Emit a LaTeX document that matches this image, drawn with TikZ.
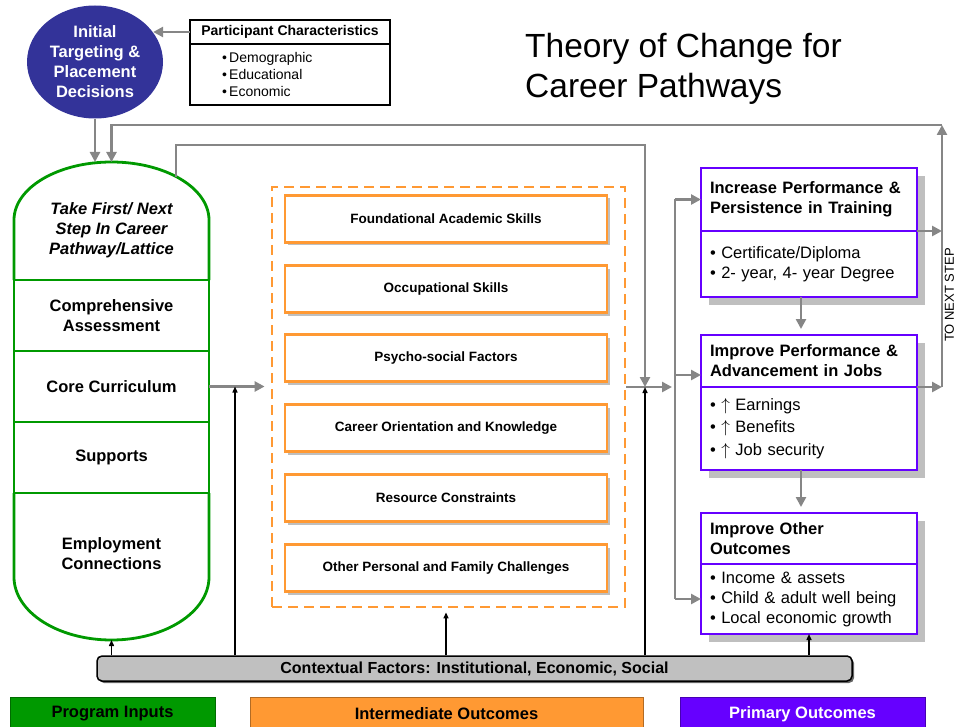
\documentclass[tikz,border=0pt]{standalone}
\usepackage{fontspec}
\setmainfont{Liberation Sans}
\usepackage{tikz}
\usetikzlibrary{arrows.meta,calc,shapes.geometric,shadows}
\definecolor{FlowGrey}{RGB}{134,134,134}
\definecolor{PathGreen}{RGB}{0,153,0}
\definecolor{OutcomeOrange}{RGB}{255,153,51}
\definecolor{PrimaryPurple}{RGB}{102,0,255}
\definecolor{TargetBlue}{RGB}{51,51,153}
\definecolor{ContextGrey}{RGB}{192,192,192}
\definecolor{ShadowGrey}{RGB}{191,191,191}
\tikzset{
  flowline/.style={draw=FlowGrey, line width=2.8pt},
  flow/.style={flowline, -{Triangle[length=10pt,width=10pt]}},
  ctx/.style={draw=black, line width=1.4pt, -{Triangle[length=6pt,width=5pt]}},
  pathcell/.style={draw=PathGreen, line width=2.8pt, outer sep=0pt, minimum width=195pt, minimum height=71pt, align=center, font={\fontsize{16.5}{20}\selectfont\bfseries}},
  pathtext/.style={align=center, font={\fontsize{16.5}{20}\selectfont\bfseries}},
  skillbox/.style={draw=OutcomeOrange, line width=2.8pt, fill=white, minimum width=322pt, minimum height=47pt, font={\fontsize{13.5}{16}\selectfont\bfseries}, drop shadow={shadow xshift=3pt, shadow yshift=-3pt, fill=ShadowGrey, opacity=1}},
  primhead/.style={draw=PrimaryPurple, line width=2.8pt, outer sep=0pt, fill=white, text width=198pt, inner xsep=9pt, align=left, font={\fontsize{16.5}{20}\selectfont\bfseries}, drop shadow={shadow xshift=8pt, shadow yshift=-8pt, fill=ShadowGrey, opacity=1}},
  primbody/.style={primhead, font={\fontsize{16.5}{20}\selectfont}},
  charbox/.style={draw=black, line width=1.2pt, outer sep=0pt, minimum width=200pt},
  keybox/.style={minimum height=34pt, line width=1pt, font={\fontsize{16.5}{18}\selectfont\bfseries}}
}

\begin{document}
\begin{tikzpicture}[x=1pt, y=1pt]
          \useasboundingbox (0,0) rectangle (955,-727);

          \node[ellipse, fill=TargetBlue, text=white, minimum width=136pt, minimum height=113pt, inner sep=0pt, align=center, font={\fontsize{16.5}{20}\selectfont\bfseries}] (Targeting) at (95,-62) {Initial\\Targeting \&\\Placement\\Decisions};
          \node[charbox, minimum height=24pt, font={\fontsize{14}{16}\selectfont\bfseries}] (Characteristics) at (290,-32) {Participant Characteristics};
          \node[charbox, anchor=north, minimum height=61pt, text width=136pt, inner xsep=32pt, align=left, font={\fontsize{14}{17}\selectfont}] (Traits) at (Characteristics.south) {•\,Demographic\\•\,Educational\\•\,Economic};
          \node[anchor=north west, align=left, inner sep=0pt, font={\fontsize{33.5}{40}\selectfont}] (Title) at (525,-33) {Theory of Change for\\Career Pathways};

          \node[pathcell] (Assessment) at (111.5,-315.5) {Comprehensive\\Assessment};
          \node[pathcell] (Curriculum) at (111.5,-386.5) {Core Curriculum};
          \node[pathcell] (Supports) at (111.5,-457.5) {Supports};
          \draw[draw=PathGreen, line width=2.8pt] (Assessment.north west) -- ++(0,60) arc[start angle=180, end angle=0, x radius=97.5, y radius=58] -- (Assessment.north east);
          \draw[draw=PathGreen, line width=2.8pt] (Supports.south west) -- ++(0,-84) arc[start angle=180, end angle=360, x radius=97.5, y radius=63] -- (Supports.south east);
          \node[pathtext, font={\fontsize{16.5}{20}\selectfont\bfseries\itshape}] (FirstStep) at (111.5,-230) {Take First/ Next\\Step In Career\\Pathway/Lattice};
          \node[pathtext] (Employment) at (111.5,-554) {Employment\\Connections};
          \coordinate (PathwayTop) at (111.5,-162);
          \coordinate (PathwayBottom) at (111.5,-640);
          \coordinate (LoopStart) at (176,-177);

          \node[draw=OutcomeOrange, line width=2.8pt, dash pattern=on 10pt off 6pt, minimum width=353pt, minimum height=420pt] (Intermediate) at (448.5,-397) {};
          \node[skillbox] (Foundational) at (446,-219) {Foundational Academic Skills};
          \node[skillbox] (Occupational) at (446,-289) {Occupational Skills};
          \node[skillbox] (Psychosocial) at (446,-358) {Psycho-social Factors};
          \node[skillbox] (Orientation) at (446,-428) {Career Orientation and Knowledge};
          \node[skillbox] (Resources) at (446,-498) {Resource Constraints};
          \node[skillbox] (Challenges) at (446,-568) {Other Personal and Family Challenges};

          \node[primhead, minimum height=63pt] (TrainingHead) at (809,-199.5) {Increase Performance \&\\Persistence in Training};
          \node[primbody, minimum height=66pt, anchor=north] (TrainingBody) at (TrainingHead.south) {• Certificate/Diploma\\• 2- year, 4- year Degree};
          \node[primhead, minimum height=52pt] (JobsHead) at (809,-361) {Improve Performance \&\\Advancement in Jobs};
          \node[primbody, minimum height=83pt, anchor=north, font={\fontsize{16.5}{22.5}\selectfont}] (JobsBody) at (JobsHead.south) {• $\uparrow$ Earnings\\• $\uparrow$ Benefits\\• $\uparrow$ Job security};
          \node[primhead, minimum height=51pt] (OtherHead) at (809,-538.5) {Improve Other\\Outcomes};
          \node[primbody, minimum height=70pt, anchor=north] (OtherBody) at (OtherHead.south) {• Income \& assets\\• Child \& adult well being\\• Local economic growth};

          \node[draw=black, line width=1.5pt, fill=ContextGrey, rounded corners=5pt, minimum width=755pt, minimum height=25pt, font={\fontsize{16}{18}\selectfont\bfseries}, drop shadow={shadow xshift=2pt, shadow yshift=-2pt, fill=black!60, opacity=1}] (Context) at (474.5,-668.5) {Contextual Factors: Institutional, Economic, Social};

          \node[keybox, fill=PathGreen, draw=PathGreen!70!black, minimum width=205pt] (InputsKey) at (112.5,-714) {Program Inputs};
          \node[keybox, fill=OutcomeOrange, draw=OutcomeOrange!70!black, minimum width=393pt] (IntermediateKey) at (446.5,-714) {Intermediate Outcomes};
          \node[keybox, fill=PrimaryPurple, draw=PrimaryPurple!70!black, text=white, minimum width=245pt] (PrimaryKey) at (802.5,-714) {Primary Outcomes};

          \node[rotate=90, inner sep=0pt, font={\fontsize{13}{14}\selectfont}] (NextStepLabel) at (949.5,-295) {TO NEXT STEP};

          \coordinate (NextStep) at (942,-125);
          \coordinate (LoopCorner) at (645,-145);
          \coordinate (Junction) at (645,-387);
          \coordinate (Entry) at (235,-386.5);
          \coordinate (Fork) at (675,-387);
          \coordinate (JobsEntry) at ([yshift=-14pt]JobsHead.west);

          \draw[flow] (Characteristics.west) -- (Characteristics.west -| Targeting.27.5);
          \draw[flow] (Targeting.south) -- (Targeting.south |- PathwayTop);
          \draw[flow] (TrainingHead.south east) -- (TrainingHead.south east -| NextStep);
          \draw[flow] (JobsHead.south east) -- (JobsHead.south east -| NextStep);
          \draw[flow] (JobsHead.south east -| NextStep) -- (NextStep);
          \draw[flow] (NextStep) -- (NextStep -| PathwayTop) -- (PathwayTop);
          \draw[flow] (LoopStart) |- (LoopCorner) -- (Junction);
          \draw[flow, shorten >=6pt] (Curriculum.east) -- (Curriculum.east -| Intermediate.west);
          \draw[flow, shorten >=3pt] (Intermediate.east |- Junction) -- (Fork);
          \draw[flowline] (Fork |- TrainingHead.west) -- (Fork |- OtherBody.west);
          \draw[flow] (Fork |- TrainingHead.west) -- (TrainingHead.west);
          \draw[flow] (Fork |- JobsEntry) -- (JobsEntry);
          \draw[flow] (Fork |- OtherBody.west) -- (OtherBody.west);
          \draw[flow, shorten >=6pt] ([xshift=-8pt]TrainingBody.south) -- ([xshift=-8pt]JobsHead.north);
          \draw[flow, shorten >=6pt] ([xshift=-8pt]JobsBody.south) -- ([xshift=-8pt]OtherHead.north);

          \draw[ctx] (Context.north -| PathwayBottom) -- (PathwayBottom);
          \draw[ctx] (Context.north -| Entry) -- (Entry);
          \draw[ctx, shorten >=4pt] (Context.north -| Challenges.south) -- (Challenges.south |- Intermediate.south);
          \draw[ctx] (Context.north -| Junction) -- (Junction);
          \draw[ctx] (Context.north -| OtherBody.south) -- (OtherBody.south);
        \end{tikzpicture}
\end{document}
